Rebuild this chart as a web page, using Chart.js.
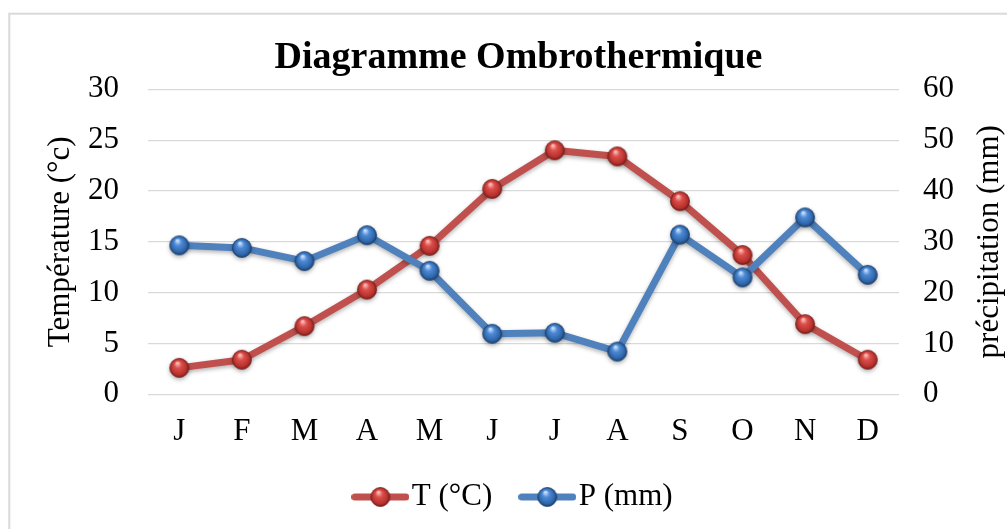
<!DOCTYPE html>
<html>
<head>
<meta charset="utf-8">
<script src="https://cdn.jsdelivr.net/npm/chart.js@4.4.0/dist/chart.umd.min.js"></script>
<style>
html,body{margin:0;padding:0;background:#fff;}
#wrap{width:1007px;height:529px;position:relative;}
</style>
</head>
<body>
<div id="wrap"><canvas id="c" width="1007" height="529"></canvas></div>
<script>
// ---- data ----
const months = ['J','F','M','A','M','J','J','A','S','O','N','D'];
const temperature = [2.6, 3.4, 6.7, 10.3, 14.6, 20.2, 24.0, 23.4, 19.0, 13.7, 6.9, 3.4];
const precipitation = [29.3, 28.8, 26.2, 31.3, 24.3, 11.9, 12.1, 8.4, 31.4, 23.0, 34.8, 23.5];
const leftTicks = [0, 5, 10, 15, 20, 25, 30];
const rightTicks = [0, 10, 20, 30, 40, 50, 60];
const chartTitle = 'Diagramme Ombrothermique';
const leftAxisTitle = 'Température (°c)';
const rightAxisTitle = 'précipitation (mm)';
const seriesNames = ['T (°C)', 'P (mm)'];

// ---- styles ----
const FONT = "'Liberation Serif', 'Times New Roman', serif";
const RED = '#C0504D';
const BLUE = '#4F81BD';

function makeSphere(light, base, dark, edge) {
  const c = document.createElement('canvas');
  c.width = 22; c.height = 22;
  const g = c.getContext('2d');
  const cx = 11, cy = 11, r = 9.5;
  const grad = g.createRadialGradient(cx - 2, cy - 5, 0.5, cx, cy, r);
  grad.addColorStop(0, light);
  grad.addColorStop(0.35, base);
  grad.addColorStop(0.8, dark);
  grad.addColorStop(1, edge);
  g.beginPath();
  g.arc(cx, cy, r, 0, Math.PI * 2);
  g.fillStyle = grad;
  g.fill();
  g.lineWidth = 0.8;
  g.strokeStyle = edge;
  g.stroke();
  return c;
}
function makeLegendImg(color, sphere) {
  const c = document.createElement('canvas');
  c.width = 58; c.height = 22;
  const g = c.getContext('2d');
  g.strokeStyle = color;
  g.lineWidth = 7;
  g.lineCap = 'round';
  g.beginPath();
  g.moveTo(3.5, 11); g.lineTo(54.5, 11);
  g.stroke();
  g.drawImage(sphere, 29 - 11, 0);
  return c;
}
const redSphere = makeSphere('#ffc2bf', '#dc4f4a', '#b8322e', '#7a1e1b');
const blueSphere = makeSphere('#cfe4ff', '#4d8ad6', '#2f66aa', '#1c4070');
const legendImgs = [makeLegendImg(RED, redSphere), makeLegendImg(BLUE, blueSphere)];

const framePlugin = {
  id: 'frame',
  beforeDraw(chart) {
    const ctx = chart.ctx;
    ctx.save();
    ctx.fillStyle = '#fff';
    ctx.fillRect(0, 0, chart.width, chart.height);
    ctx.strokeStyle = '#d9d9d9';
    ctx.lineWidth = 2;
    ctx.strokeRect(9.3, 13.7, 1200, 700);
    ctx.restore();
  }
};
const shadowPlugin = {
  id: 'lineShadow',
  beforeDatasetDraw(chart) {
    const ctx = chart.ctx;
    ctx.save();
    ctx.shadowColor = 'rgba(0,0,0,0.3)';
    ctx.shadowBlur = 4;
    ctx.shadowOffsetY = 2;
  },
  afterDatasetDraw(chart) {
    chart.ctx.restore();
  }
};
const rightTitlePlugin = {
  id: 'rightTitle',
  afterDraw(chart) {
    const ctx = chart.ctx;
    const a = chart.chartArea;
    const s = chart.scales.y1;
    ctx.save();
    ctx.translate(s.right - 17, (a.top + a.bottom) / 2);
    ctx.rotate(-Math.PI / 2);
    ctx.font = '31px ' + FONT;
    ctx.fillStyle = '#000';
    ctx.textAlign = 'center';
    ctx.textBaseline = 'middle';
    ctx.fillText(rightAxisTitle, 0, 0);
    ctx.restore();
  }
};

const tickFont = {family: FONT, size: 31};

new Chart(document.getElementById('c'), {
  type: 'line',
  data: {
    labels: months,
    datasets: [
      {
        label: seriesNames[0], data: temperature, yAxisID: 'y',
        borderColor: RED, backgroundColor: RED, borderWidth: 7,
        pointStyle: redSphere, pointRadius: 9.5, order: 1,
        borderJoinStyle: 'round', tension: 0
      },
      {
        label: seriesNames[1], data: precipitation, yAxisID: 'y1',
        borderColor: BLUE, backgroundColor: BLUE, borderWidth: 7,
        pointStyle: blueSphere, pointRadius: 9.5, order: 0,
        borderJoinStyle: 'round', tension: 0
      }
    ]
  },
  options: {
    responsive: false,
    devicePixelRatio: 1,
    animation: false,
    events: [],
    layout: {padding: {left: 30, right: 0, top: 0, bottom: 6.5}},
    plugins: {
      tooltip: {enabled: false},
      title: {
        display: true, text: chartTitle, color: '#000',
        font: {family: FONT, size: 38, weight: 'bold'},
        padding: {top: 35.5, bottom: 8.2}
      },
      legend: {
        position: 'bottom',
        labels: {
          usePointStyle: true,
          pointStyleWidth: 32,
          padding: 39,
          color: '#000',
          font: {family: FONT, size: 31},
          sort: (a, b) => a.datasetIndex - b.datasetIndex,
          generateLabels(chart) {
            const items = Chart.defaults.plugins.legend.labels.generateLabels(chart);
            items.forEach(it => { it.pointStyle = legendImgs[it.datasetIndex]; });
            return items;
          }
        }
      }
    },
    scales: {
      x: {
        offset: true,
        grid: {display: false, drawTicks: false, offset: true},
        border: {display: false},
        ticks: {font: tickFont, color: '#000', padding: 19, maxRotation: 0, autoSkip: false},
        afterFit(s) { s.height = 48.2; }
      },
      y: {
        position: 'left',
        min: leftTicks[0], max: leftTicks[leftTicks.length - 1],
        afterBuildTicks(s) { s.ticks = leftTicks.map(v => ({value: v})); },
        ticks: {font: tickFont, color: '#000', padding: 29},
        grid: {color: '#d9d9d9', lineWidth: 1.2, drawTicks: false},
        border: {display: false},
        title: {
          display: true, text: leftAxisTitle, color: '#000',
          font: {family: FONT, size: 31},
          padding: {top: 11.8, bottom: 0}
        },
        afterFit(s) { s.width = 118; }
      },
      y1: {
        position: 'right',
        min: rightTicks[0], max: rightTicks[rightTicks.length - 1],
        afterBuildTicks(s) { s.ticks = rightTicks.map(v => ({value: v})); },
        ticks: {font: tickFont, color: '#000', padding: 24},
        grid: {display: false, drawTicks: false},
        border: {display: false},
        afterFit(s) { s.width = 108; }
      }
    }
  },
  plugins: [framePlugin, shadowPlugin, rightTitlePlugin]
});
</script>
</body>
</html>
